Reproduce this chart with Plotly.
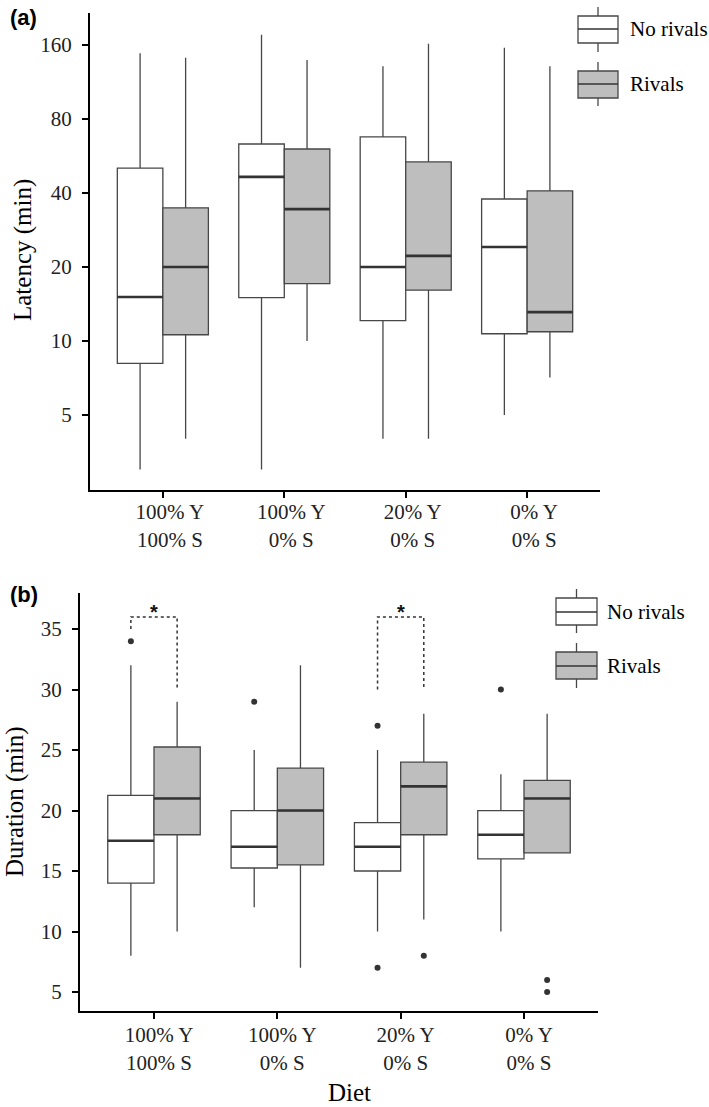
import plotly.graph_objects as go

W, H = 709, 1107

# ---------------- data ----------------
categories = ["100% Y<br>100% S", "100% Y<br>0% S", "20% Y<br>0% S", "0% Y<br>0% S"]
groups = ["No rivals", "Rivals"]

# Panel (a): Latency (min), log scale
lat_no_lower = [3.0, 3.0, 4.0, 5.0]
lat_no_q1 = [8.1, 15.0, 12.1, 10.7]
lat_no_median = [15.1, 46.5, 20.0, 24.1]
lat_no_q3 = [50.5, 63.3, 67.6, 37.8]
lat_no_upper = [148, 176, 131, 156]

lat_riv_lower = [4.0, 10.0, 4.0, 7.1]
lat_riv_q1 = [10.6, 17.1, 16.1, 10.9]
lat_riv_median = [20.0, 34.4, 22.2, 13.1]
lat_riv_q3 = [34.8, 60.4, 53.5, 40.8]
lat_riv_upper = [142, 139, 162, 131]

lat_ticks = [5, 10, 20, 40, 80, 160]

# Panel (b): Duration (min)
dur_no_lower = [8, 12, 10, 10]
dur_no_q1 = [14, 15.25, 15, 16]
dur_no_median = [17.5, 17, 17, 18]
dur_no_q3 = [21.25, 20, 19, 20]
dur_no_upper = [32, 25, 25, 23]
dur_no_outliers = [[34], [29], [27, 7], [30]]

dur_riv_lower = [10, 7, 11, 16.5]
dur_riv_q1 = [18, 15.5, 18, 16.5]
dur_riv_median = [21, 20, 22, 21]
dur_riv_q3 = [25.25, 23.5, 24, 22.5]
dur_riv_upper = [29, 32, 28, 28]
dur_riv_outliers = [[], [], [8], [6, 5]]

dur_ticks = [5, 10, 15, 20, 25, 30, 35]

# significance brackets (panel b)
sig_categories = [0, 2]
sig_top = 36
sig_left_bottom = [35, 30]
sig_right_bottom = [30, 30]
sig_label = "*"

# ---------------- style ----------------
SERIF = "Liberation Serif, Times New Roman, serif"
SANS = "Liberation Sans, Arial, sans-serif"
FILLS = ["white", "#bebebe"]
LINE_C = "#474747"
MED_C = "#333333"
DODGE = 0.1875
BOXW = 0.375
NCAT = len(categories)


def px_x(p):
    return p / W


def px_y(p):
    return 1 - p / H


fig = go.Figure()


def add_panel(xa, ya, stats, outliers=None):
    for g, (lower, q1, med, q3, upper) in enumerate(stats):
        off = -DODGE if g == 0 else DODGE
        xs = [i + off for i in range(NCAT)]
        fig.add_trace(go.Box(
            x=xs, q1=q1, median=med, q3=q3, lowerfence=lower, upperfence=upper,
            width=BOXW, fillcolor=FILLS[g], line=dict(color=LINE_C, width=1.3),
            whiskerwidth=0, boxpoints=False, name=groups[g], showlegend=False,
            xaxis=xa, yaxis=ya, hoverinfo="skip"))
        # thicker median line like ggplot
        mx, my = [], []
        for x, m in zip(xs, med):
            mx += [x - BOXW / 2, x + BOXW / 2, None]
            my += [m, m, None]
        fig.add_trace(go.Scatter(x=mx, y=my, mode="lines",
                                 line=dict(color=MED_C, width=2.6),
                                 showlegend=False, xaxis=xa, yaxis=ya,
                                 hoverinfo="skip"))
        if outliers is not None:
            ox, oy = [], []
            for x, pts in zip(xs, outliers[g]):
                for v in pts:
                    ox.append(x)
                    oy.append(v)
            if ox:
                fig.add_trace(go.Scatter(x=ox, y=oy, mode="markers",
                                         marker=dict(color=MED_C, size=6),
                                         showlegend=False, xaxis=xa, yaxis=ya,
                                         hoverinfo="skip"))


add_panel("x", "y", [
    (lat_no_lower, lat_no_q1, lat_no_median, lat_no_q3, lat_no_upper),
    (lat_riv_lower, lat_riv_q1, lat_riv_median, lat_riv_q3, lat_riv_upper)])

add_panel("x2", "y2", [
    (dur_no_lower, dur_no_q1, dur_no_median, dur_no_q3, dur_no_upper),
    (dur_riv_lower, dur_riv_q1, dur_riv_median, dur_riv_q3, dur_riv_upper)],
    outliers=[dur_no_outliers, dur_riv_outliers])

# significance brackets
for c, lb, rb in zip(sig_categories, sig_left_bottom, sig_right_bottom):
    fig.add_trace(go.Scatter(
        x=[c - DODGE, c - DODGE, c + DODGE, c + DODGE],
        y=[lb, sig_top, sig_top, rb], mode="lines",
        line=dict(color=MED_C, width=1.5, dash="dot"),
        showlegend=False, xaxis="x2", yaxis="y2", hoverinfo="skip"))

annotations = []
for c in sig_categories:
    annotations.append(dict(x=c, y=sig_top + 0.4, xref="x2", yref="y2",
                            text="<b>" + sig_label + "</b>", showarrow=False,
                            xanchor="center", yanchor="middle",
                            font=dict(family=SANS, size=20, color="#111")))

axis_common = dict(showline=True, linecolor="black", linewidth=2,
                   ticks="outside", ticklen=6, tickwidth=2, tickcolor="black",
                   showgrid=False, zeroline=False,
                   tickfont=dict(family=SERIF, size=21, color="#222"))

fig.update_layout(
    width=W, height=H, margin=dict(l=0, r=0, t=0, b=0),
    paper_bgcolor="white", plot_bgcolor="white", showlegend=False,
    xaxis=dict(domain=[px_x(90), px_x(600)], anchor="y", range=[-0.6, 3.6],
               tickmode="array", tickvals=list(range(NCAT)),
               ticktext=categories, ticklabelstandoff=-4, ticklabelshift=7,
               **axis_common),
    yaxis=dict(domain=[px_y(490), px_y(13)], anchor="x", type="log",
               range=[0.3937, 2.3343], tickmode="array", tickvals=lat_ticks,
               ticktext=[str(t) for t in lat_ticks], ticklabelstandoff=6,
               **axis_common),
    xaxis2=dict(domain=[px_x(80), px_x(598)], anchor="y2", range=[-0.6, 3.6],
                tickmode="array", tickvals=list(range(NCAT)),
                ticktext=categories, ticklabelstandoff=-2, ticklabelshift=5,
                **axis_common),
    yaxis2=dict(domain=[px_y(1011), px_y(593)], anchor="x2",
                range=[3.43, 37.98], tickmode="array", tickvals=dur_ticks,
                ticktext=[str(t) for t in dur_ticks], ticklabelstandoff=6,
                **axis_common),
)

# axis titles and panel tags
titles = [
    dict(x=px_x(23), y=px_y(250), text="Latency (min)", textangle=-90),
    dict(x=px_x(15), y=px_y(802), text="Duration (min)", textangle=-90),
    dict(x=px_x(349), y=px_y(1092), text="Diet"),
]
for a in titles:
    a.update(xref="paper", yref="paper", showarrow=False, xanchor="center",
             yanchor="middle", font=dict(family=SERIF, size=25, color="black"))
annotations += titles

tags = [
    dict(x=px_x(23), y=px_y(17), text="<b>(a)</b>"),
    dict(x=px_x(24), y=px_y(594), text="<b>(b)</b>"),
]
for a in tags:
    a.update(xref="paper", yref="paper", showarrow=False, xanchor="center",
             yanchor="middle", font=dict(family=SANS, size=22, color="black"))
annotations += tags

# custom legends (ggplot-style box keys)
shapes = []
legend_specs = [
    (578, 618, 628, [(16, 43, 29, 7, 52), (71, 98, 84, 62, 106)]),
    (556, 597, 605, [(598, 625, 612, 589, 633), (652, 679, 666, 643, 688)]),
]
for kl, kr, tx, keys in legend_specs:
    cx = (kl + kr) / 2
    for g, (bt, bb, bm, wt, wb) in enumerate(keys):
        shapes.append(dict(type="line", xref="paper", yref="paper",
                           x0=px_x(cx), x1=px_x(cx), y0=px_y(wt), y1=px_y(wb),
                           line=dict(color=LINE_C, width=1.3)))
        shapes.append(dict(type="rect", xref="paper", yref="paper",
                           x0=px_x(kl), x1=px_x(kr), y0=px_y(bb), y1=px_y(bt),
                           fillcolor=FILLS[g], line=dict(color=LINE_C, width=1.3)))
        shapes.append(dict(type="line", xref="paper", yref="paper",
                           x0=px_x(kl), x1=px_x(kr), y0=px_y(bm), y1=px_y(bm),
                           line=dict(color=MED_C, width=1.6)))
        annotations.append(dict(x=px_x(tx), y=px_y(bm), xref="paper", yref="paper",
                                text=groups[g], showarrow=False, xanchor="left",
                                yanchor="middle",
                                font=dict(family=SERIF, size=21, color="black")))

fig.update_layout(shapes=shapes, annotations=annotations)

fig.write_html("out.html", config={"displayModeBar": False},
               post_script="document.body.style.margin='0';")
